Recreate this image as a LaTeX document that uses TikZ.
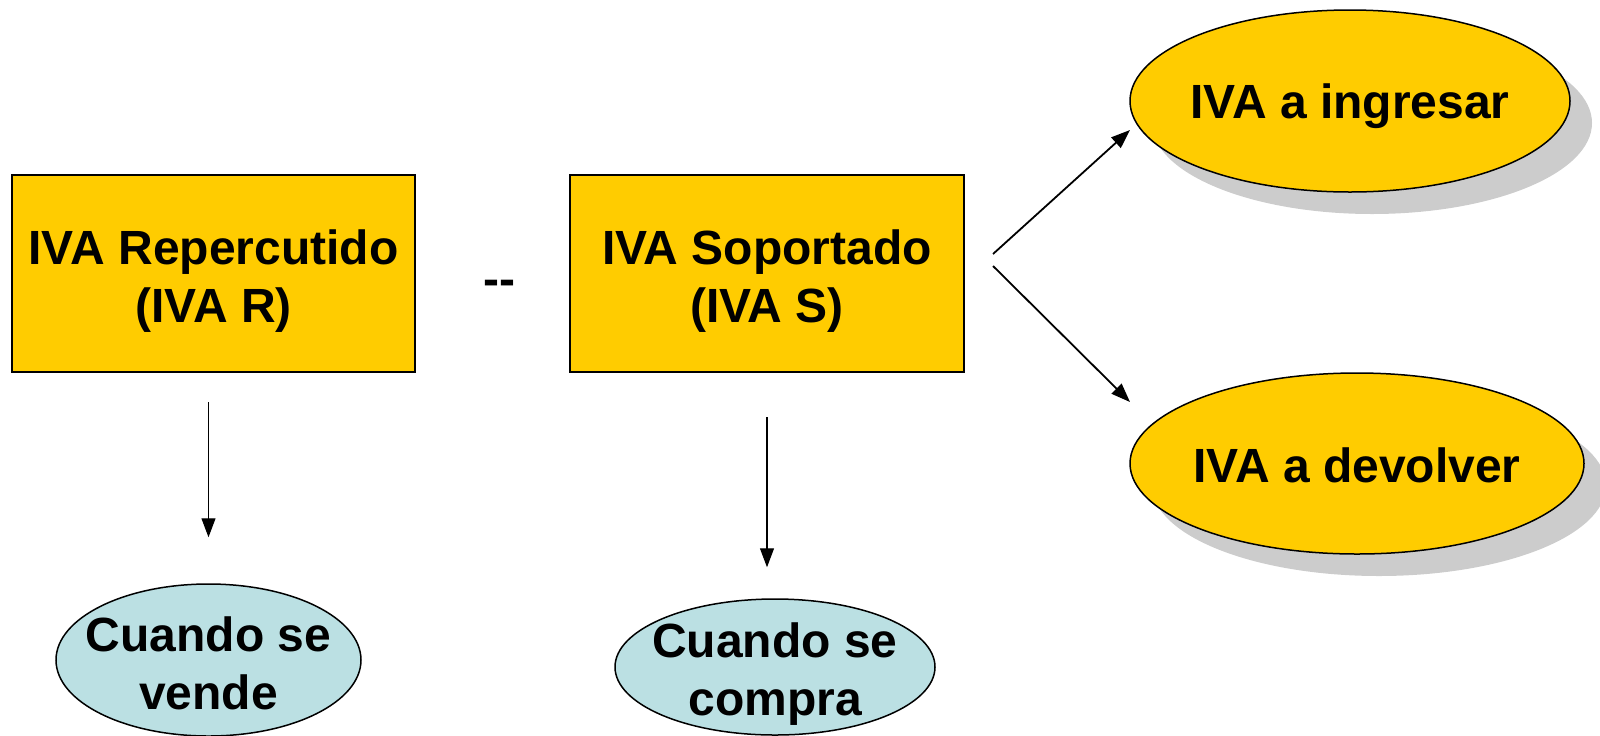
\documentclass[tikz,border=0pt]{standalone}
\usepackage{fontspec}
\setmainfont{Liberation Sans}
\usetikzlibrary{arrows.meta, shapes, shadows, positioning}

\definecolor{ivaamarillo}{HTML}{FFCC00}
\definecolor{ivaceleste}{HTML}{BBE0E3}

\begin{document}
\begin{tikzpicture}[x=0.5pt, y=-0.5pt]

    \tikzset
    {
        font={\fontsize{24pt}{29pt}\selectfont\bfseries},
        caja/.style={draw, line width=1pt, fill=ivaamarillo, minimum height=98.5pt, inner sep=0pt},
        ovalo/.style={ellipse, draw, line width=0.75pt, inner sep=0pt},
        sombra/.style={drop shadow={shadow xshift=11pt, shadow yshift=-11pt, fill=black!20, opacity=1}},
        texto/.style={align=center, inner sep=0pt},
        flecha/.style={-{Triangle[length=9.5pt, width=7pt]}, line width=0.6pt}
    }

    \useasboundingbox (0,0) rectangle (1600,735);

    \node[caja, minimum width=201.5pt] (rep) at (213.5,273.5) {};
    \node[texto] (reptxt) at ([yshift=-4pt]rep) {IVA Repercutido\\(IVA R)};
    \node[caja, minimum width=197pt] (sop) at (767,273.5) {};
    \node[texto] (soptxt) at ([yshift=-4pt]sop) {IVA Soportado\\(IVA S)};
    \node[anchor=base, inner sep=0pt] (menos) at (499,295) {{-}{-}};

    \node[ovalo, sombra, fill=ivaamarillo, minimum width=220pt, minimum height=91pt] (ingresar) at (1350,101) {};
    \node[texto] (ingresartxt) at ([yshift=-2.5pt]ingresar) {IVA a ingresar};
    \node[ovalo, sombra, fill=ivaamarillo, minimum width=227pt, minimum height=90.5pt] (devolver) at (1357,463.5) {};
    \node[texto] (devolvertxt) at ([yshift=-1pt]devolver) {IVA a devolver};

    \node[ovalo, fill=ivaceleste, minimum width=152.5pt, minimum height=76pt] (vende) at (208.5,660) {};
    \node[texto] (vendetxt) at ([yshift=-1.5pt]vende) {Cuando se\\vende};
    \node[ovalo, fill=ivaceleste, minimum width=160pt, minimum height=68pt] (compra) at (775,667) {};
    \node[texto] (compratxt) at ([yshift=-3.5pt]compra) {Cuando se\\compra};

    \coordinate (salida1) at (993,254);
    \coordinate (salida2) at (993,266);
    \coordinate (llegada1) at (1130,130);
    \coordinate (llegada2) at (1130,402);

    \draw[flecha, shorten <=14.5pt, shorten >=23pt] (vende.north |- rep.south) -- (vende.north);
    \draw[flecha, shorten <=22pt, shorten >=15.5pt] (sop.south) -- (sop.south |- compra.north);
    \draw[flecha, line width=0.9pt] (salida1) -- (llegada1);
    \draw[flecha, line width=0.9pt] (salida2) -- (llegada2);

\end{tikzpicture}
\end{document}
